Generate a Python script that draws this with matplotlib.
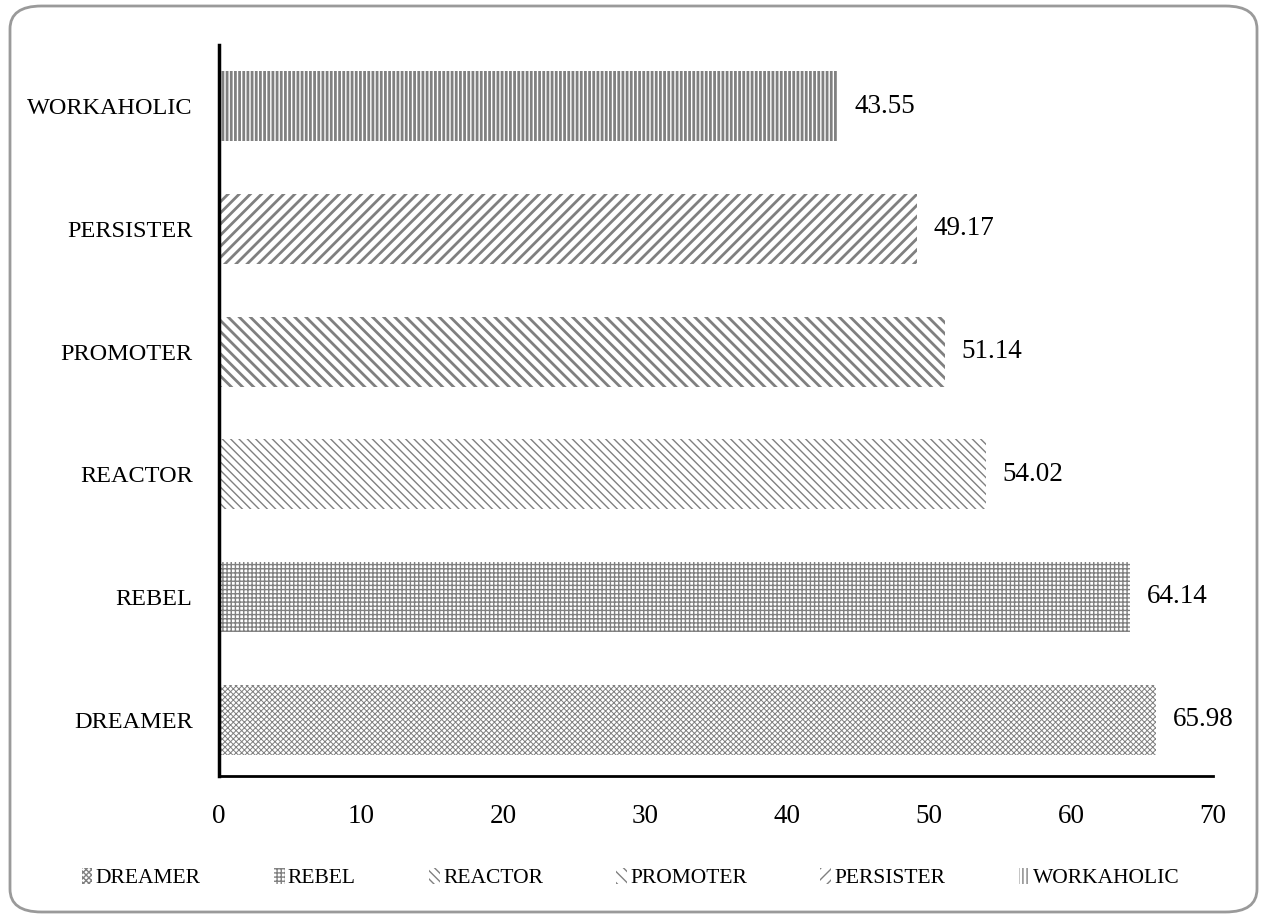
import matplotlib
matplotlib.use('Agg')
import matplotlib.pyplot as plt
from matplotlib.patches import FancyBboxPatch

# chart data
categories = ['DREAMER', 'REBEL', 'REACTOR', 'PROMOTER', 'PERSISTER', 'WORKAHOLIC']
values = [65.98, 64.14, 54.02, 51.14, 49.17, 43.55]
value_labels = ['65.98', '64.14', '54.02', '51.14', '49.17', '43.55']
x_ticks = [0, 10, 20, 30, 40, 50, 60, 70]

hatches = ['xxxxxx', '++++', '\\\\\\\\', '\\\\\\', '///', '||||']
hatch_lws = [0.7, 1.0, 1.0, 2.0, 2.0, 2.0]
GREY = '#808080'

plt.rcParams['font.family'] = ['Liberation Serif', 'DejaVu Serif']

fig = plt.figure(figsize=(12.61, 9.16), dpi=100)
ax = fig.add_axes([219 / 1261, 1 - 776 / 916, (1213 - 219) / 1261, (776 - 45) / 916])

bars = []
for i, (cat, val) in enumerate(zip(categories, values)):
    with plt.rc_context({'hatch.linewidth': hatch_lws[i]}):
        b = ax.barh(i, val, height=0.57, color='white', edgecolor=GREY,
                    linewidth=0, hatch=hatches[i], label=cat)
    for p in b:
        if hasattr(p, 'set_hatch_linewidth'):
            p.set_hatch_linewidth(hatch_lws[i])
    bars.append(b)
    ax.annotate(value_labels[i], (val, i), xytext=(12, 0), textcoords='offset points',
                va='center', ha='left', fontsize=19.5)

ax.set_xlim(0, 70)
ax.set_ylim(-0.46, 5.5)
ax.set_xticks(x_ticks)
ax.set_yticks(range(len(categories)))
ax.set_yticklabels(categories, fontsize=17.5)
ax.tick_params(axis='both', length=0)
ax.tick_params(axis='x', labelsize=19.5, pad=20)
ax.tick_params(axis='y', pad=19)
for s in ['top', 'right']:
    ax.spines[s].set_visible(False)
ax.spines['left'].set_linewidth(2.5)
ax.spines['bottom'].set_linewidth(2.0)

fig.legend(handles=bars, labels=categories, loc='center', bbox_to_anchor=(0.5, 1 - 878 / 916),
           ncol=6, frameon=False, fontsize=15.5, handlelength=0.5, handleheight=0.8,
           handletextpad=0.15, columnspacing=3.4)

border = FancyBboxPatch((10 / 1261, 4 / 916), 1247 / 1261, 906 / 916,
                        boxstyle='round,pad=0,rounding_size=0.025',
                        transform=fig.transFigure, facecolor='none',
                        edgecolor='#9a9a9a', linewidth=2, zorder=-1)
fig.patches.append(border)

fig.savefig('out.png', dpi=100)
